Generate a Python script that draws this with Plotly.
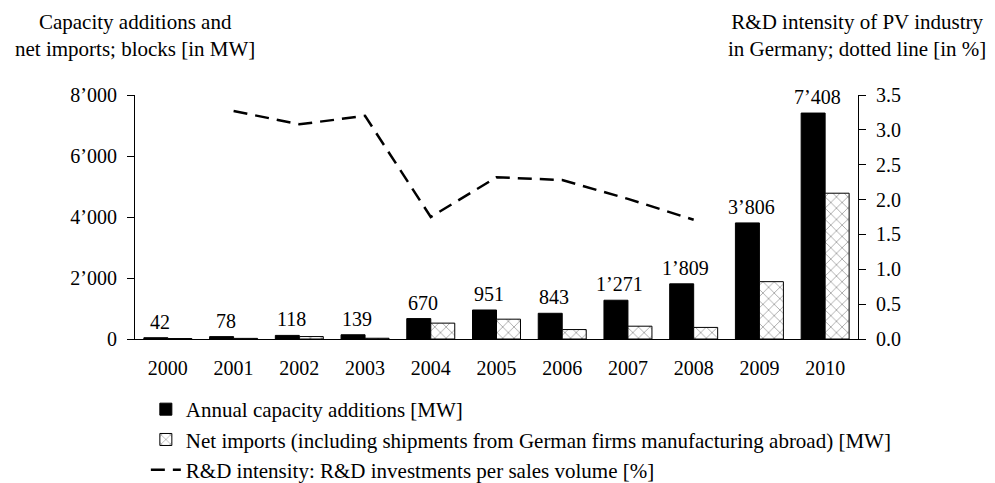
import plotly.graph_objects as go

years = ["2000", "2001", "2002", "2003", "2004", "2005", "2006", "2007", "2008", "2009", "2010"]
capacity = [42, 78, 118, 139, 670, 951, 843, 1271, 1809, 3806, 7408]
capacity_labels = ["42", "78", "118", "139", "670", "951", "843", "1’271", "1’809", "3’806", "7’408"]
net_imports = [15, 20, 80, 25, 520, 650, 310, 420, 380, 1880, 4780]
rd_years = ["2001", "2002", "2003", "2004", "2005", "2006", "2007", "2008"]
rd_intensity = [3.27, 3.08, 3.20, 1.75, 2.32, 2.28, 2.01, 1.71]
left_ticks = [0, 2000, 4000, 6000, 8000]
left_tick_text = ["0", "2’000", "4’000", "6’000", "8’000"]
right_ticks = [0, 0.5, 1.0, 1.5, 2.0, 2.5, 3.0, 3.5]
right_tick_text = ["0.0", "0.5", "1.0", "1.5", "2.0", "2.5", "3.0", "3.5"]

FONT = "Liberation Serif"
fs = 20
fl = 21
ft = 21

fig = go.Figure()
fig.add_trace(go.Bar(
    x=years, y=capacity, name="Annual capacity additions [MW]",
    marker=dict(color="black", line=dict(color="black", width=1)),
))
fig.add_trace(go.Bar(
    x=years, y=net_imports,
    name="Net imports (including shipments from German firms manufacturing abroad) [MW]",
    marker=dict(color="white", line=dict(color="black", width=1),
                pattern=dict(shape="x", fgcolor="black", bgcolor="white", size=8, solidity=0.15)),
))
fig.add_trace(go.Scatter(
    x=rd_years, y=rd_intensity, yaxis="y2", mode="lines",
    name="R&D intensity: R&D investments per sales volume [%]",
    line=dict(color="black", width=2.5, dash="14px,8px"),
))

# value labels above the black bars (x given as category index on the category axis)
annotations = [
    dict(x=i, y=v, text=lbl, xref="x", yref="y", showarrow=False,
         xanchor="center", yanchor="bottom", xshift=-8, yshift=3,
         font=dict(family=FONT, size=fs, color="black"))
    for i, (v, lbl) in enumerate(zip(capacity, capacity_labels))
]
annotations += [
    dict(text="Capacity additions and<br>net imports; blocks [in MW]", xref="paper", yref="paper",
         x=0.0, y=1.356, xanchor="center", yanchor="top", showarrow=False,
         font=dict(family=FONT, size=ft), align="center"),
    dict(text="R&D intensity of PV industry<br>in Germany; dotted line [in %]", xref="paper", yref="paper",
         x=0.998, y=1.356, xanchor="center", yanchor="top", showarrow=False,
         font=dict(family=FONT, size=ft), align="center"),
]

fig.update_layout(
    width=995, height=483,
    margin=dict(l=135, r=137, t=95, b=144, autoexpand=False),
    plot_bgcolor="white", paper_bgcolor="white",
    font=dict(family=FONT, size=fs, color="black"),
    barmode="group", bargap=0.27, bargroupgap=0,
    showlegend=True,
    legend=dict(x=0.015, y=-0.205, xanchor="left", yanchor="top",
                orientation="v", font=dict(family=FONT, size=fl),
                bgcolor="rgba(0,0,0,0)", tracegroupgap=0, itemwidth=30,
                traceorder="normal"),
    xaxis=dict(type="category", showline=True, linecolor="black", linewidth=1, ticks="outside",
               ticklen=11, tickcolor="rgba(0,0,0,0)",
               tickfont=dict(family=FONT, size=fs), showgrid=False, zeroline=False),
    yaxis=dict(range=[0, 8000], tickvals=left_ticks, ticktext=left_tick_text,
               showline=True, linecolor="black", linewidth=1, ticks="outside",
               ticklen=7, tickcolor="black", showgrid=False, zeroline=False,
               ticklabelstandoff=6, tickfont=dict(family=FONT, size=fs)),
    yaxis2=dict(range=[0, 3.5], tickvals=right_ticks, ticktext=right_tick_text,
                overlaying="y", side="right", showline=True, linecolor="black",
                linewidth=1, ticks="outside", ticklen=7, tickcolor="black",
                showgrid=False, zeroline=False, ticklabelstandoff=6,
                tickfont=dict(family=FONT, size=fs)),
    annotations=annotations,
)

fig.write_html("out.html", config={"displayModeBar": False},
               post_script="document.body.style.margin='0';document.body.style.overflow='hidden';")
